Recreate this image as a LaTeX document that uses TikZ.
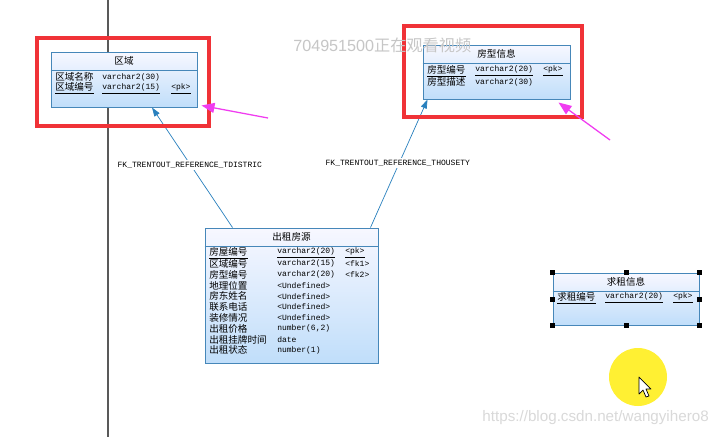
\documentclass[tikz,border=0pt]{standalone}
\usepackage{fontspec}
\setmainfont{Liberation Sans}
\newfontfamily\cjk{Noto Sans CJK SC}
\newfontfamily\mono{Liberation Mono}
\usetikzlibrary{arrows.meta, positioning, calc}
\definecolor{erline}{RGB}{70,135,185}
\definecolor{erfill}{RGB}{192,222,250}
\definecolor{fkline}{RGB}{40,128,190}
\definecolor{markred}{RGB}{240,50,55}
\definecolor{markpink}{RGB}{240,60,240}
\def\px{0.025cm}

\begin{document}
\begin{tikzpicture}[
    x=0.025cm, y=-0.025cm,
    tbl/.style={draw=erline, line width=0.7pt, top color=blue!3, bottom color=erfill, inner sep=0pt},
    ttl/.style={font=\fontsize{6.8}{7}\cjk, inner sep=0pt},
    col/.style={anchor=west, inner sep=0pt, font=\fontsize{6.8}{7}\cjk},
    typ/.style={anchor=west, inner sep=0pt, font=\fontsize{5.7}{6}\mono},
    fk/.style={draw=fkline, line width=0.5pt, -{Triangle[length=9*\px, width=6*\px]}},
    fklabel/.style={font=\fontsize{5.7}{6}\mono, inner sep=0pt, anchor=west},
    redmark/.style={draw=markred, line width=2.2pt},
    pointer/.style={draw=markpink, line width=0.9pt, -{Triangle[length=13*\px, width=10*\px]}},
    handle/.style={fill=black, minimum size=5*\px, inner sep=0pt}
]
    \useasboundingbox (0,0) rectangle (718,437);
    \fill[white] (0,0) rectangle (718,437);

    % background of the screenshot
    \draw[gray!70!black, line width=1.2pt] (108,0) -- (108,437);

    % table: area
    \node[tbl, minimum width=146*\px, minimum height=55*\px] (area) at (124,79.5) {};
    \node[ttl] (areaT) at (124,61) {区域};
    \draw[erline, line width=0.6pt] (area.west |- 0,70) -- (area.east |- 0,70);
    \node[col] (area1) at (55,77) {区域名称};
    \node[typ] at (102,77) {varchar2(30)};
    \node[col] (area2) at (55,88.5) {\underline{区域编号}};
    \node[typ] at (102,88.5) {\underline{varchar2(15)}};
    \node[typ] at (171,88.5) {\underline{<pk>}};

    % table: house type
    \node[tbl, minimum width=147*\px, minimum height=54*\px] (type) at (496.5,72) {};
    \node[ttl] (typeT) at (496.5,54) {房型信息};
    \draw[erline, line width=0.6pt] (type.west |- 0,63) -- (type.east |- 0,63);
    \node[col] (type1) at (427,71) {\underline{房型编号}};
    \node[typ] at (475,71) {\underline{varchar2(20)}};
    \node[typ] at (543,71) {\underline{<pk>}};
    \node[col] (type2) at (427,82) {房型描述};
    \node[typ] at (475,82) {varchar2(30)};

    % table: rented house
    \node[tbl, minimum width=173*\px, minimum height=135*\px] (rent) at (291.5,295.5) {};
    \node[ttl] (rentT) at (291.5,237) {出租房源};
    \draw[erline, line width=0.6pt] (rent.west |- 0,246) -- (rent.east |- 0,246);
    \foreach \n/\t/\k [count=\i from 0] in {%
        房屋编号/varchar2(20)/<pk>, 区域编号/varchar2(15)/<fk1>, 房型编号/varchar2(20)/<fk2>,
        地理位置/<Undefined>/, 房东姓名/<Undefined>/, 联系电话/<Undefined>/,
        装修情况/<Undefined>/, 出租价格/{number(6,2)}/, 出租挂牌时间/date/, 出租状态/number(1)/} {
        \ifnum\i=0
            \node[col] at (209,{253+10.8*\i}) {\underline{\n}};
            \node[typ] at (277,{253+10.8*\i}) {\underline{\t}};
            \node[typ] at (345,{253+10.8*\i}) {\underline{\k}};
        \else
            \node[col] at (209,{253+10.8*\i}) {\n};
            \node[typ] at (277,{253+10.8*\i}) {\t};
            \node[typ] at (345,{253+10.8*\i}) {\k};
        \fi
    }

    % table: rent request (selected)
    \node[tbl, minimum width=146*\px, minimum height=52*\px] (want) at (626,299) {};
    \node[ttl] (wantT) at (626,282) {求租信息};
    \draw[erline, line width=0.6pt] (want.west |- 0,291) -- (want.east |- 0,291);
    \node[col] (want1) at (557,298) {\underline{求租编号}};
    \node[typ] at (605,298) {\underline{varchar2(20)}};
    \node[typ] at (673,298) {\underline{<pk>}};
    \foreach \a in {north west, north, north east, west, east, south west, south, south east}
        \node[handle] at (want.\a) {};

    % references
    \draw[fk] ($(rent.north west)+(28,0)$) -- ($(area.south)+(28,0)$);
    \draw[fk] ($(rent.north east)+(-8,0)$) -- ($(type.south west)+(5,0)$);
    \node[fklabel, fill=white, inner sep=1pt] (refArea) at (116,165) {FK\_TRENTOUT\_REFERENCE\_TDISTRIC};
    \node[fklabel, fill=white, inner sep=1pt] (refType) at (324,163) {FK\_TRENTOUT\_REFERENCE\_THOUSETY};

    % red marks
    \draw[redmark] (37,38) rectangle (209,126);
    \draw[redmark] (404,26) rectangle (582,117);
    \coordinate (tipArea) at (268,118);
    \coordinate (tipType) at (610,140);
    \draw[pointer] (tipArea) -- ($(area.south east)+(4,-2)$);
    \draw[pointer] (tipType) -- ($(type.south east)+(-12,3)$);

    % cursor
    \fill[yellow!95!orange!80] (638,377) circle (29);
    \draw[fill=white, line width=0.5pt, line join=round] (639,377) -- (639,394) -- (643,390) -- (646,397) -- (649,396) -- (646,389) -- (651,389) -- cycle;

    % watermarks
    \node[font=\fontsize{11.5}{12}\selectfont, text=gray!45, anchor=west, inner sep=0pt] (watch) at (293,45) {704951500{\cjk 正在观看视频}};
    \node[font=\fontsize{10.8}{11}\selectfont, text=gray!30, anchor=east, inner sep=0pt] (blog) at (709,418) {https://blog.csdn.net/wangyihero8};
\end{tikzpicture}
\end{document}
